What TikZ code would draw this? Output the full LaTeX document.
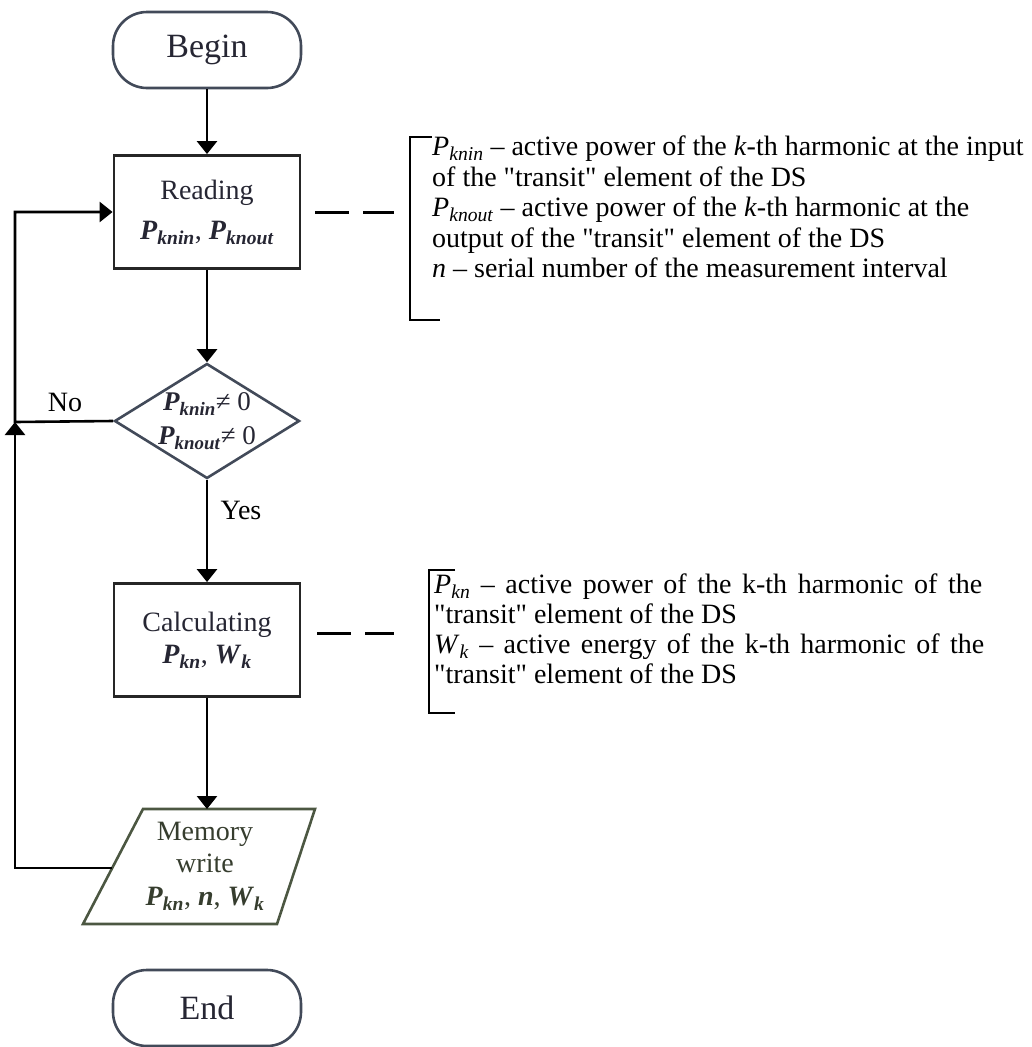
\documentclass[tikz,border=0pt]{standalone}
\usepackage{fontspec}
\setmainfont{Liberation Serif}
\usetikzlibrary{shapes.geometric,arrows.meta}
\newcommand\PS[2]{\textbf{\textit{#1}}\textsubscript{\textbf{\textit{#2}}}}
\newcommand\PI[2]{\textit{#1}\textsubscript{\textit{#2}}}
\newcommand\qq{\textquotedbl}
\definecolor{edgeb}{rgb}{0.26,0.29,0.35}
\definecolor{edgeg}{rgb}{0.30,0.34,0.26}
\definecolor{txt}{rgb}{0.15,0.15,0.20}
\begin{document}
\begin{tikzpicture}[x=1pt,y=-1pt,
  flow/.style={line width=2.6pt, black},
  arr/.style={flow, -{Triangle[length=13pt,width=20pt]}},
  term/.style={draw=edgeb, line width=2.6pt, rounded corners=34pt, minimum width=188pt, minimum height=76pt, inner sep=0pt, text=txt, font=\fontsize{34}{38}\selectfont},
  proc/.style={draw=black!85, line width=2.8pt, minimum width=186pt, minimum height=113pt, inner sep=0pt, align=center, text=txt},
  dec/.style={draw=edgeb, line width=2.6pt, diamond, minimum width=185pt, minimum height=115pt, inner sep=0pt},
  inner/.style={align=center, inner sep=0pt, text=txt},
  lbl/.style={inner sep=0pt, font=\fontsize{28}{32}\selectfont},
  brk/.style={line width=2.6pt, black},
  dashc/.style={line width=3pt, black, dash pattern=on 34pt off 14pt},
  note/.style={anchor=north west, inner sep=0pt, align=left, font=\fontsize{28}{30.5}\selectfont}
]
\useasboundingbox (0,0) rectangle (1032,1047);

% flowchart nodes
\node[term] (begin) at (207,50) {Begin};
\node[proc, font=\fontsize{28}{40}\selectfont] (read) at (207,212) {Reading\\ \PS{P}{knin}, \PS{P}{knout}};
\node[dec] (dia) at (207,421) {};
\node[inner, font=\fontsize{27}{34}\selectfont] (diat) at (207,421) {\PS{P}{knin}≠ 0\\ \PS{P}{knout}≠ 0};
\node[proc, font=\fontsize{28}{32}\selectfont] (calc) at (207,640) {Calculating\\ \PS{P}{kn}, \PS{W}{k}};

% memory write parallelogram
\coordinate (mbl) at (83,924);
\coordinate (mtl) at (143,809);
\coordinate (mtr) at (315,809);
\coordinate (mbr) at (277,924);
\draw[draw=edgeg, line width=2.6pt] (mbl) -- (mtl) -- (mtr) -- (mbr) -- cycle;
\node[inner, text=edgeg!70!black, font=\fontsize{28}{32.5}\selectfont] (mem) at (205,866) {Memory\\ write\\ \PS{P}{kn}, \textbf{\textit{n}}, \PS{W}{k}};
\coordinate (mtop) at (207,809);
\coordinate (mleft) at (112,868);

\node[term] (end) at (207,1008) {End};

% connectors
\draw[arr] (begin) -- (read);
\draw[arr] (read) -- (dia);
\draw[arr] (dia) -- (calc);
\draw[arr] (calc) -- (mtop);
\coordinate (j) at (15,422);
\draw[arr] (dia.west) -- (j) |- (read.west);
\draw[arr] (mleft) -| (j);
\node[lbl] (no) at (65,402) {No};
\node[lbl] (yes) at (241,510) {Yes};

% annotation 1
\coordinate (b1) at (410,137);
\draw[brk] (432,137) -- (b1) -- (410,320) -- (440,320);
\draw[dashc, shorten <=14pt, shorten >=16pt] (read.east) -- (read.east -| b1);
\node[note] (ann1) at (432,136) {\PI{P}{knin} – active power of the \textit{k}-th harmonic at the input\\
of the \qq transit\qq{} element of the DS\\
\PI{P}{knout} – active power of the \textit{k}-th harmonic at the\\
output of the \qq transit\qq{} element of the DS\\
\textit{n} – serial number of the measurement interval};

% annotation 2
\coordinate (b2) at (429,570);
\coordinate (c2) at ([yshift=7pt]calc.east);
\draw[brk] (455,570) -- (b2) -- (429,713) -- (455,713);
\draw[dashc, shorten <=16pt, shorten >=35pt] (c2) -- (c2 -| b2);
\node[note, font=\fontsize{28}{30}\selectfont] (ann2) at (434,574) {\makebox[548pt][s]{\PI{P}{kn} – active power of the k-th harmonic of the}\\
\qq transit\qq{} element of the DS\\
\makebox[550pt][s]{\PI{W}{k} – active energy of the k-th harmonic of the}\\
\qq transit\qq{} element of the DS};
\end{tikzpicture}
\end{document}
